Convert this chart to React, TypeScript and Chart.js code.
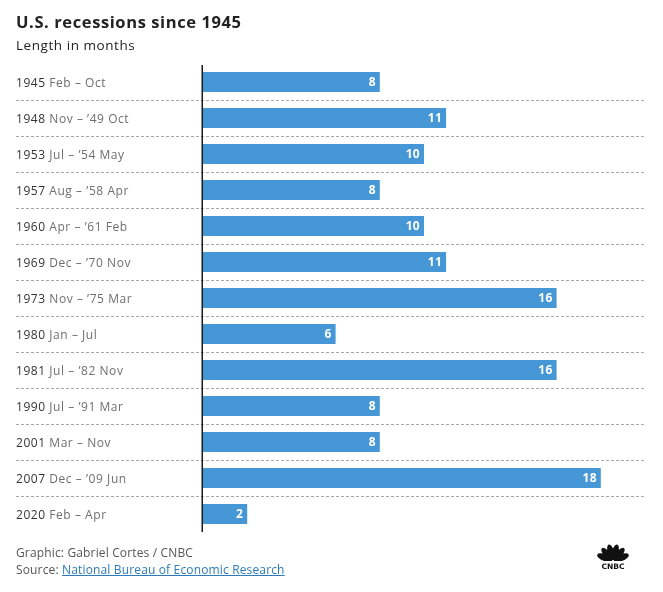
import React, { useEffect, useRef } from "react";
import { Chart, registerables } from "chart.js";

Chart.register(...registerables);

const years = ["1945", "1948", "1953", "1957", "1960", "1969", "1973", "1980", "1981", "1990", "2001", "2007", "2020"];
const spans = [
  "Feb – Oct",
  "Nov – ’49 Oct",
  "Jul – ’54 May",
  "Aug – ’58 Apr",
  "Apr – ’61 Feb",
  "Dec – ’70 Nov",
  "Nov – ’75 Mar",
  "Jan – Jul",
  "Jul – ’82 Nov",
  "Jul – ’91 Mar",
  "Mar – Nov",
  "Dec – ’09 Jun",
  "Feb – Apr",
];
const months = [8, 11, 10, 8, 10, 11, 16, 6, 16, 8, 8, 18, 2];
const xMax = 20;

const FONT = "'Open Sans', Lato, sans-serif";

const decorPlugin = {
  id: "decor",
  beforeDatasetsDraw(chart: any) {
    const { ctx, chartArea, scales } = chart;
    const y = scales.y;
    ctx.save();
    ctx.strokeStyle = "#a8a8a8";
    ctx.lineWidth = 1;
    ctx.setLineDash([3, 2]);
    for (let i = 0; i < years.length - 1; i++) {
      const py = Math.round((y.getPixelForValue(i) + y.getPixelForValue(i + 1)) / 2) + 0.5;
      ctx.beginPath();
      ctx.moveTo(16, py);
      ctx.lineTo(chartArea.right, py);
      ctx.stroke();
    }
    ctx.restore();
  },
  afterDatasetsDraw(chart: any) {
    const { ctx, chartArea, scales } = chart;
    const y = scales.y;
    ctx.save();
    ctx.strokeStyle = "#1a1a1a";
    ctx.lineWidth = 1.5;
    ctx.beginPath();
    ctx.moveTo(chartArea.left - 0.75, chartArea.top + 1);
    ctx.lineTo(chartArea.left - 0.75, chartArea.bottom);
    ctx.stroke();
    ctx.textBaseline = "middle";
    ctx.textAlign = "left";
    (ctx as any).letterSpacing = "0.55px";
    for (let i = 0; i < years.length; i++) {
      const py = y.getPixelForValue(i) + 1.5;
      ctx.font = "12px " + FONT;
      ctx.fillStyle = "#333333";
      const yr = years[i] + " ";
      ctx.fillText(yr, 16, py);
      const w = ctx.measureText(yr).width;
      ctx.fillStyle = "#6f6f6f";
      ctx.fillText(spans[i], 16 + w, py);
    }
    const meta = chart.getDatasetMeta(0);
    (ctx as any).letterSpacing = "0.3px";
    ctx.font = "bold 12px " + FONT;
    ctx.fillStyle = "#ffffff";
    ctx.textAlign = "right";
    meta.data.forEach((bar: any, i: number) => {
      ctx.fillText(String(months[i]), bar.x - 4, bar.y + 1);
    });
    ctx.restore();
  },
};

function Logo() {
  const angles = [-68, -41, -14, 14, 41, 68];
  return (
    <svg width={38} height={28} viewBox="0 0 38 28" style={{ position: "absolute", left: 594, top: 542 }}>
      {angles.map((a, i) => (
        <ellipse
          key={i}
          cx={19}
          cy={10}
          rx={3.3}
          ry={8}
          fill="#111"
          transform={`rotate(${a} 19 19)`}
        />
      ))}
      <rect x={4} y={19} width={30} height={2} fill="#fff" />
      <text x={19} y={26.5} textAnchor="middle" fontFamily="'DejaVu Sans', sans-serif" fontWeight="bold" fontSize={7.5} fill="#111">
        CNBC
      </text>
    </svg>
  );
}

export default function App() {
  const ref = useRef<HTMLCanvasElement>(null);

  useEffect(() => {
    if (!ref.current) return;
    const chart = new Chart(ref.current, {
      type: "bar",
      data: {
        labels: years.map((y, i) => y + " " + spans[i]),
        datasets: [
          {
            data: months,
            backgroundColor: "#4697d6",
            borderWidth: 0,
            barPercentage: 20 / 36,
            categoryPercentage: 1,
          },
        ],
      },
      options: {
        indexAxis: "y",
        responsive: false,
        animation: false,
        layout: { padding: { left: 203, right: 18, top: 64, bottom: 60 } },
        plugins: { legend: { display: false }, tooltip: { enabled: false }, title: { display: false } },
        scales: {
          x: { display: false, min: 0, max: xMax },
          y: { display: false },
        },
      },
      plugins: [decorPlugin],
    });
    return () => chart.destroy();
  }, []);

  return (
    <div style={{ position: "absolute", left: 0, top: 0, width: 663, height: 592, background: "#fff", fontFamily: FONT }}>
      <canvas ref={ref} width={663} height={592} style={{ position: "absolute", left: 0, top: 0 }} />
      <div style={{ position: "absolute", left: 16, top: 11, fontSize: 16.5, lineHeight: "22px", fontWeight: 700, letterSpacing: "0.6px", color: "#222", whiteSpace: "nowrap" }}>
        U.S. recessions since 1945
      </div>
      <div style={{ position: "absolute", left: 16, top: 36, fontSize: 13.5, lineHeight: "18px", letterSpacing: "0.55px", color: "#222", whiteSpace: "nowrap" }}>
        Length in months
      </div>
      <div style={{ position: "absolute", left: 16, top: 544, fontSize: 12, color: "#555", lineHeight: "17px", letterSpacing: "0.15px", whiteSpace: "nowrap" }}>
        <div>Graphic: Gabriel Cortes / CNBC</div>
        <div>
          Source:{" "}
          <span style={{ color: "#2b7bb9", textDecoration: "underline" }}>National Bureau of Economic Research</span>
        </div>
      </div>
      <Logo />
    </div>
  );
}
